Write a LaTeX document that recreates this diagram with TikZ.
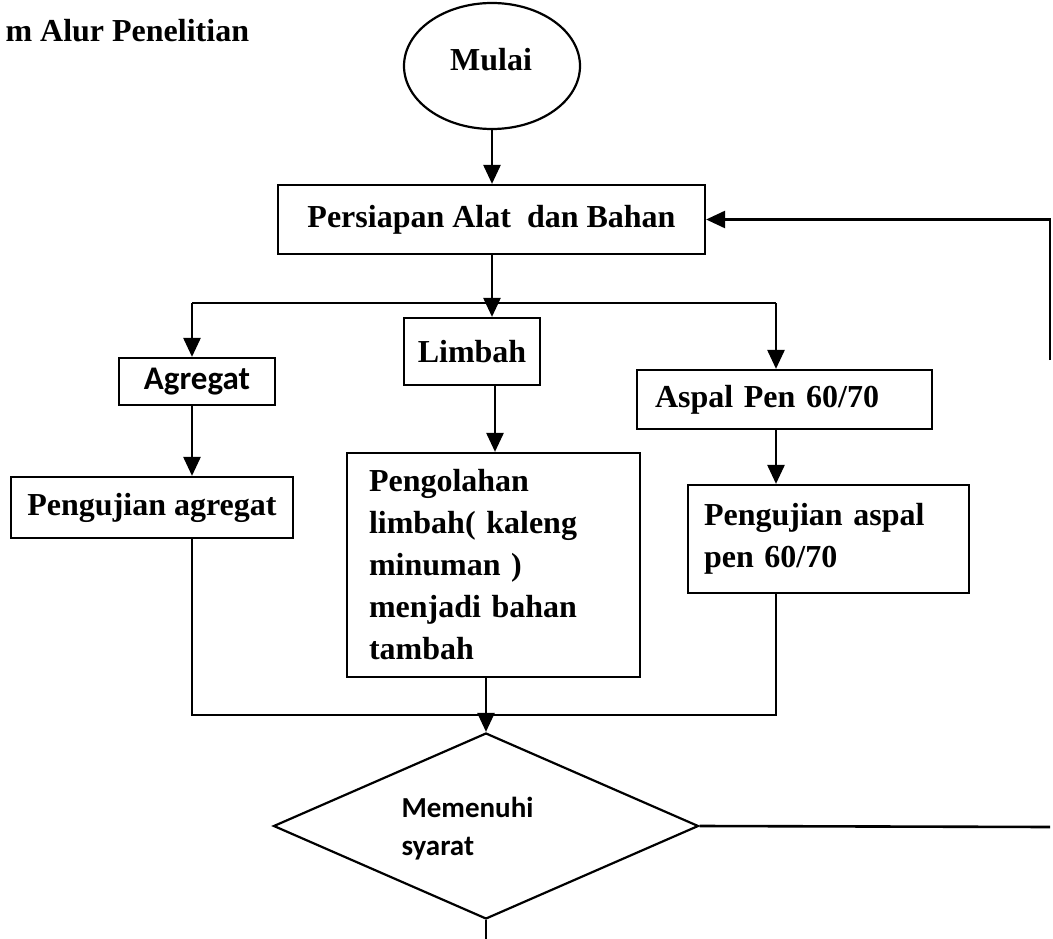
\documentclass[tikz,border=0pt]{standalone}
\usepackage{fontspec}
\setmainfont{Liberation Serif}
\newfontfamily\calibri{Carlito}
\usetikzlibrary{shapes.geometric,arrows.meta}

\tikzset{
  kotak/.style={draw,line width=2.2pt,inner sep=0pt,font=\fontsize{32}{42}\selectfont\bfseries},
  panah/.style={line width=2.6pt,-{Triangle[width=17pt,length=19pt]}},
  garis/.style={line width=2.6pt}
}

\begin{document}
\begin{tikzpicture}[x=1pt,y=-1pt]
\useasboundingbox (0,0) rectangle (1053,939);

% judul (terpotong di kiri)
\node[anchor=base west,font=\fontsize{32}{42}\selectfont\bfseries] (judul) at (2,42) {m Alur Penelitian};

% kotak-kotak
\node[kotak,ellipse,minimum width=176pt,minimum height=126pt] (mulai) at (492,66) {};
\node[font=\fontsize{32}{42}\selectfont\bfseries] (mulaiteks) at (491,60) {Mulai};
\node[kotak,minimum width=427pt,minimum height=69pt] (persiapan) at (491.5,219.5) {Persiapan Alat\ \ dan Bahan};
\node[kotak,minimum width=156pt,minimum height=47pt,font=\fontsize{33}{38}\selectfont\calibri\bfseries] (agregat) at (197,381.5) {Agregat};
\node[kotak,minimum width=136pt,minimum height=67pt] (limbah) at (472,351.5) {Limbah};
\node[kotak,minimum width=295pt,minimum height=59pt,text width=259pt,align=left] (aspal) at (784.5,399.5) {Aspal Pen 60/70};
\node[kotak,minimum width=282pt,minimum height=61pt] (ujiagregat) at (152,507.5) {Pengujian agregat};
\node[kotak,minimum width=293pt,minimum height=224pt,text width=249pt,align=left] (olah) at (493.5,565)
  {Pengolahan\\limbah( kaleng\\minuman )\\menjadi bahan\\tambah};
\node[kotak,minimum width=281pt,minimum height=108pt,text width=249pt,align=left] (ujiaspal) at (828.5,539)
  {Pengujian aspal\\pen 60/70};
\node[draw,line width=2.2pt,diamond,minimum width=425pt,minimum height=186pt,inner sep=0pt] (syarat) at (486,826) {};
\node[anchor=west,align=left,font=\fontsize{29}{38}\selectfont\calibri\bfseries] (syaratteks) at (398,829) {Memenuhi\\syarat};

% titik bantu
\coordinate (cabang) at (492,303);
\coordinate (cabangkiri) at (192,303);
\coordinate (cabangkanan) at (776,303);
\coordinate (gabungkiri) at (192,715);
\coordinate (gabungkanan) at (776,715);
\coordinate (kembali) at (1050,827);
\coordinate (kembaliatas) at (1050,360);

% panah
\draw[panah] (mulai.south) -- (mulai.south |- persiapan.north);
\draw[garis] (persiapan.south -| cabang) -- (cabang);
\draw[garis] (cabangkiri) -- (cabangkanan);
\draw[panah] (cabangkiri) -- (cabangkiri |- agregat.north);
\draw[panah] (cabang) -- (cabang |- limbah.north);
\draw[panah] (cabangkanan) -- (cabangkanan |- aspal.north);
\draw[panah] (agregat.south -| cabangkiri) -- (cabangkiri |- ujiagregat.north);
\draw[panah] (limbah.south -| 495,0) -- (495,0 |- olah.north);
\draw[panah] (aspal.south -| cabangkanan) -- (cabangkanan |- ujiaspal.north);
\draw[garis] (ujiagregat.south -| gabungkiri) -- (gabungkiri) -- (gabungkanan) -- (ujiaspal.south -| gabungkanan);
\draw[panah] (olah.south -| syarat.north) -- (syarat.north);
\draw[garis] (syarat.east) -- (kembali);
\draw[panah] (kembaliatas) -- (kembaliatas |- persiapan.east) -- (persiapan.east);
\draw[garis] (syarat.south) -- ++(0,20);
\end{tikzpicture}
\end{document}
